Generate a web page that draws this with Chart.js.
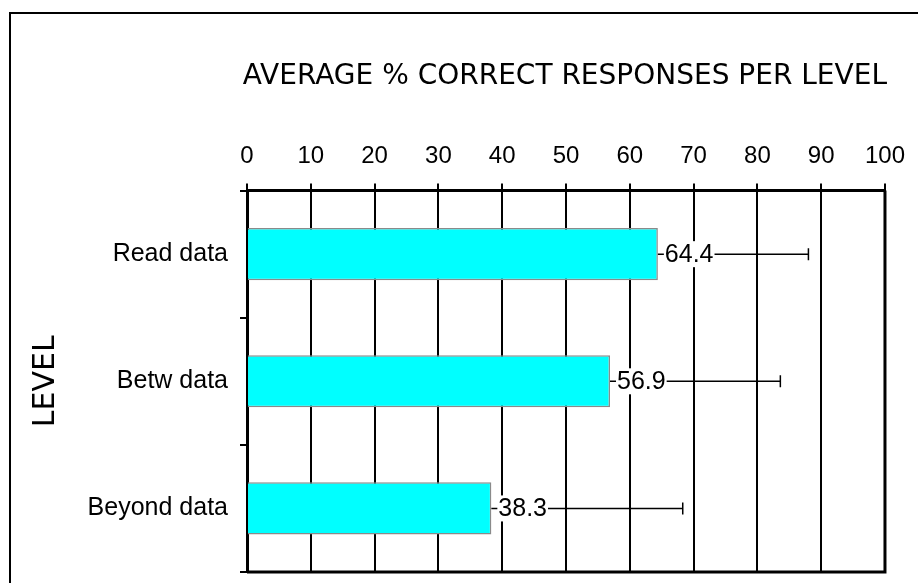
<!DOCTYPE html>
<html>
<head>
<meta charset="utf-8">
<script src="https://cdn.jsdelivr.net/npm/chart.js@4"></script>
<style>
  body { margin: 0; background: #fff; }
  #wrap { position: relative; width: 918px; height: 583px; overflow: hidden; }
  #frame { position: absolute; left: 9px; top: 12px; width: 1000px; height: 1000px;
           border-left: 2px solid #000; border-top: 2px solid #000; }
  #chart { position: absolute; left: 0; top: 0; }
</style>
</head>
<body>
<div id="wrap">
  <div id="frame"></div>
  <canvas id="chart" width="918" height="583"></canvas>
</div>
<script>
'use strict';

// levels and their average % correct
var levels = ['Read data', 'Betw data', 'Beyond data'];
var averages = [64.4, 56.9, 38.3];
// upper error (added to the average)
var upperErr = [23.6, 26.7, 30.0];

var titleText = 'AVERAGE % CORRECT RESPONSES PER LEVEL';
var axisTitle = 'LEVEL';

var handFont = '"Comic Sans MS", "DejaVu Sans", sans-serif';
var plainFont = 'Arial, "Liberation Sans", sans-serif';

// right + bottom border of the plot
var frameBox = {
  id: 'frameBox',
  afterDraw: function(chart){
    var a = chart.chartArea;
    var ctx = chart.ctx;
    ctx.save();
    ctx.strokeStyle = '#000';
    ctx.lineWidth = 3;
    ctx.beginPath();
    ctx.moveTo(a.left, a.bottom);
    ctx.lineTo(a.right, a.bottom);
    ctx.lineTo(a.right, a.top);
    ctx.stroke();
    ctx.restore();
  }
};

// one sided error bars and the value labels
var errBars = {
  id: 'errBars',
  afterDatasetsDraw: function(chart){
    var ctx = chart.ctx;
    var xs = chart.scales.x;
    var meta = chart.getDatasetMeta(0);
    ctx.save();
    for (var i = 0; i < meta.data.length; i++){
      var bar = meta.data[i];
      var x0 = bar.x;
      var x1 = xs.getPixelForValue(averages[i] + upperErr[i]);
      var y = bar.y;
      ctx.strokeStyle = '#000';
      ctx.lineWidth = 1.5;
      ctx.beginPath();
      ctx.moveTo(x0, y);
      ctx.lineTo(x1, y);
      ctx.moveTo(x1, y - 6);
      ctx.lineTo(x1, y + 6);
      ctx.stroke();

      ctx.font = '25px ' + plainFont;
      var txt = averages[i].toFixed(1);
      var w = ctx.measureText(txt).width;
      var tx = x0 + 7;
      ctx.fillStyle = '#fff';
      ctx.fillRect(tx - 1, y - 13, w + 2, 26);
      ctx.fillStyle = '#000';
      ctx.textBaseline = 'middle';
      ctx.textAlign = 'left';
      ctx.fillText(txt, tx, y + 1);
    }
    ctx.restore();
  }
};

var ctx = document.getElementById('chart').getContext('2d');
new Chart(ctx, {
  type: 'bar',
  data: {
    labels: levels,
    datasets: [{
      data: averages,
      backgroundColor: '#00FFFF',
      borderColor: '#8a8a8a',
      borderWidth: 1.5,
      barPercentage: 0.41,
      categoryPercentage: 1
    }]
  },
  options: {
    indexAxis: 'y',
    responsive: false,
    animation: false,
    devicePixelRatio: 1,
    layout: { padding: { top: 0, right: 31, bottom: 11, left: 0 } },
    plugins: {
      legend: { display: false },
      tooltip: { enabled: false },
      title: {
        display: true,
        text: titleText,
        color: '#000',
        font: { family: handFont, size: 28, weight: 'normal' },
        padding: { top: 60, bottom: 20 },
        align: 'end'
      }
    },
    scales: {
      x: {
        position: 'top',
        min: 0,
        max: 100,
        ticks: { stepSize: 10, color: '#000', padding: 13,
                 font: { family: plainFont, size: 24 } },
        grid: { color: '#000', lineWidth: 2, tickLength: 7, tickColor: '#000' },
        border: { color: '#000', width: 3 },
        afterFit: function(scale){ scale.height = 77; }
      },
      y: {
        ticks: { color: '#000', padding: 12,
                 font: { family: plainFont, size: 25 } },
        grid: { offset: true, drawOnChartArea: false, color: '#000',
                lineWidth: 2, tickLength: 7 },
        border: { color: '#000', width: 3 },
        title: {
          display: true,
          text: axisTitle,
          color: '#000',
          font: { family: handFont, size: 30, weight: 'normal' },
          padding: { top: 28, bottom: 0 }
        },
        afterFit: function(scale){
          scale.width = 247;
          // labels sit at band centres, no extra room needed above/below
          scale.paddingTop = 0;
          scale.paddingBottom = 0;
        }
      }
    }
  },
  plugins: [frameBox, errBars]
});
</script>
</body>
</html>
